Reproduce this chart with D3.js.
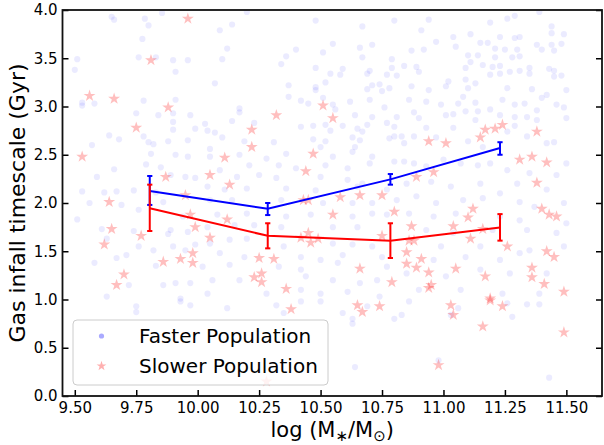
<!DOCTYPE html>
<html>
<head>
<meta charset="utf-8">
<script src="https://cdn.jsdelivr.net/npm/d3@7"></script>
<style>
  body { margin: 0; background: #fff; }
  svg { font-family: "DejaVu Sans", sans-serif; }
</style>
</head>
<body>
<svg id="chart" width="604" height="445"></svg>
<script>
// binned medians with error bars
const binMass = [9.805, 10.285, 10.784, 11.23];
const fasterMedian = [2.125, 1.94, 2.245, 2.57];
const fasterLo = [1.98, 1.875, 2.19, 2.50];
const fasterHi = [2.28, 2.00, 2.30, 2.63];
const slowerMedian = [1.945, 1.66, 1.61, 1.745];
const slowerLo = [1.71, 1.53, 1.43, 1.61];
const slowerHi = [2.19, 1.79, 1.79, 1.885];

const xTicks = [9.5, 9.75, 10.0, 10.25, 10.5, 10.75, 11.0, 11.25, 11.5];
const yTicks = [0, 0.5, 1.0, 1.5, 2.0, 2.5, 3.0, 3.5, 4.0];
const legendLabels = ["Faster Population", "Slower Population"];

// faint background samples [log mass, timescale]
const fasterPop = [
  [9.65,3.93],[9.66,3.90],[9.785,3.91],[9.80,3.84],[9.855,3.97],[9.775,3.70],[9.51,3.49],[9.50,3.38],
  [9.76,3.51],[9.83,3.51],[9.90,3.48],[9.91,3.36],[9.96,3.48],[9.53,3.04],[9.53,3.01],[9.58,3.03],
  [9.78,3.06],[9.91,3.07],[9.75,2.93],[9.84,2.91],[9.90,2.93],[9.90,2.84],[9.97,2.91],[9.64,2.70],
  [9.68,2.66],[9.78,2.69],[9.80,2.63],[9.82,2.61],[9.88,2.64],[9.90,2.76],[9.96,2.65],[9.99,2.77],
  [9.57,2.60],
  [10.20,3.98],[10.14,3.85],[10.09,3.79],[10.12,3.60],[10.10,3.49],[10.34,3.44],[10.36,3.52],[10.40,3.59],
  [10.48,3.89],[10.67,3.83],[10.80,3.89],[10.55,3.65],[10.51,3.56],[10.66,3.61],[10.71,3.64],[10.67,3.51],
  [10.79,3.49],[10.79,3.40],[10.48,3.40],[10.59,3.39],[10.58,3.33],[10.54,3.34],[10.52,3.25],[10.48,3.20],
  [10.48,3.17],[10.37,3.22],[10.37,3.10],[10.42,3.06],[10.45,3.03],[10.51,3.09],[10.55,3.02],[10.56,2.97],
  [10.07,3.24],[10.17,2.98],[10.17,2.94],[10.14,2.85],[10.23,2.83],[10.03,2.82],[10.04,2.75],[10.07,2.73],
  [10.10,2.68],[10.19,2.64],[10.05,2.56],[10.31,2.63],[10.42,2.79],[10.47,2.80],[10.52,2.81],[10.59,2.80],
  [10.62,3.05],[10.64,2.91],[10.65,2.77],[10.67,2.74],[10.69,2.81],[10.71,2.89],[10.76,2.99],[10.77,2.83],
  [10.81,2.89],[10.70,3.07],[10.69,3.18],[10.75,3.16],[10.78,3.19],[10.71,3.22],[10.74,3.23],[10.77,3.33],
  [10.81,3.32],[10.70,3.37],[10.69,3.34],[10.80,2.79],[10.78,2.67],[10.80,2.69],[10.63,2.68],[10.66,2.65],
  [10.47,2.66],[10.50,2.58],[10.52,2.64],[10.54,2.75],[10.64,2.58],
  [11.39,3.98],[11.29,3.94],[11.26,3.91],[11.19,3.87],[10.94,3.90],[10.91,3.79],[11.11,3.75],[11.04,3.72],
  [10.97,3.67],[10.87,3.58],[10.92,3.59],[11.05,3.62],[11.15,3.66],[11.18,3.66],[11.23,3.72],[11.29,3.71],
  [11.31,3.72],[11.44,3.83],[11.44,3.76],[11.49,3.75],[11.38,3.64],[11.44,3.64],[11.48,3.65],[11.40,3.59],
  [11.45,3.58],[11.21,3.60],[11.25,3.59],[11.30,3.59],[11.10,3.53],[11.14,3.53],[11.21,3.51],[11.28,3.51],
  [11.31,3.52],[11.11,3.46],[11.16,3.43],[11.20,3.41],[11.23,3.42],[10.84,3.42],[10.89,3.41],[11.09,3.40],
  [11.27,3.36],[11.31,3.37],[11.35,3.40],[11.35,3.34],[11.43,3.39],[11.45,3.37],[11.45,3.31],[11.48,3.32],
  [10.90,3.36],[11.02,3.26],[11.09,3.28],[11.13,3.24],[11.19,3.33],[11.23,3.34],[10.87,3.21],[10.94,3.17],
  [11.01,3.21],[11.10,3.19],[11.26,3.19],[11.36,3.18],[11.50,3.17],[10.86,3.07],[10.93,3.05],[10.99,3.02],
  [11.06,3.03],[11.08,3.10],[11.13,3.04],[11.24,3.07],[11.29,3.02],[11.33,3.03],[11.40,3.09],[11.42,3.12],
  [11.46,3.02],[11.49,2.99],[10.88,2.94],[10.90,2.88],[11.01,2.91],[11.04,2.92],[11.09,2.95],[11.14,2.95],
  [11.19,2.97],[11.23,2.91],[11.29,2.89],[11.34,2.89],[11.38,2.96],[11.38,2.86],[11.50,2.88],[10.93,2.78],
  [11.04,2.78],[11.13,2.86],[11.26,2.74],[11.29,2.80],[11.34,2.69],[11.42,2.62],[11.45,2.63],[10.83,2.69],
  [10.88,2.69],[10.97,2.68],[11.10,2.64],[10.84,2.62],[11.16,2.58],
  [9.53,2.12],[9.56,2.00],[9.51,1.83],[9.62,2.11],[9.67,2.12],[9.59,2.27],[9.66,2.35],[9.79,2.40],
  [9.85,2.37],[9.91,2.50],[9.96,2.48],[9.74,2.13],[9.69,1.98],[9.76,1.93],[9.86,2.01],[9.89,1.72],
  [9.88,1.68],[9.74,1.71],[9.61,1.73],[9.63,1.63],[9.67,1.43],[9.71,1.46],[9.58,1.38],[9.82,1.51],
  [9.76,1.55],[9.83,1.35],[9.90,1.55],[9.95,1.51],[9.99,1.57],[9.99,2.26],[9.95,2.27],[9.89,2.29],
  [9.83,2.11],[9.94,1.86],[9.96,1.70],[9.86,1.15],[9.91,1.17],[9.97,1.17],[9.93,1.01],[9.72,1.15],
  [9.63,1.03],[9.81,2.51],
  [10.05,2.48],[10.17,2.50],[10.28,2.46],[10.36,2.51],[10.55,2.48],[10.63,2.53],[10.71,2.48],[10.80,2.43],
  [10.21,2.39],[10.33,2.39],[10.40,2.36],[10.52,2.39],[10.61,2.36],[10.70,2.41],[10.09,2.34],[10.16,2.27],
  [10.25,2.29],[10.32,2.26],[10.50,2.27],[10.61,2.24],[10.67,2.20],[10.04,2.17],[10.11,2.14],[10.20,2.15],
  [10.36,2.15],[10.48,2.13],[10.65,2.17],[10.77,2.14],[10.05,2.03],[10.14,2.03],[10.34,2.03],[10.51,2.00],
  [10.63,2.00],[10.71,2.00],[10.81,2.03],[10.08,1.88],[10.20,1.89],[10.36,1.86],[10.46,1.88],[10.63,1.86],
  [10.71,1.89],[10.77,1.88],[10.04,1.75],[10.15,1.77],[10.23,1.77],[10.34,1.75],[10.55,1.75],[10.65,1.75],
  [10.05,1.58],[10.13,1.62],[10.20,1.63],[10.35,1.55],[10.55,1.58],[10.63,1.57],[10.71,1.55],[10.09,1.48],
  [10.19,1.44],[10.42,1.44],[10.50,1.41],[10.59,1.46],[10.75,1.44],[10.02,1.34],[10.13,1.36],[10.33,1.34],
  [10.42,1.31],[10.57,1.38],[10.77,1.34],[10.06,1.20],[10.17,1.20],[10.44,1.24],[10.55,1.20],[10.66,1.17],
  [10.73,1.20],[10.04,1.06],[10.28,1.06],[10.42,1.10],[10.50,1.06],[10.61,1.08],[10.74,1.03],
  [10.84,2.43],[10.88,2.41],[10.93,2.38],[11.00,2.45],[11.07,2.41],[11.14,2.39],[11.19,2.41],[11.26,2.34],
  [11.35,2.31],[11.46,2.29],[11.50,2.41],[10.85,2.20],[10.95,2.22],[11.03,2.17],[11.15,2.20],[11.23,2.10],
  [11.30,2.20],[11.42,2.14],[11.49,2.00],[10.89,2.07],[10.97,2.00],[11.08,2.03],[11.16,2.05],[11.31,2.01],
  [11.37,1.96],[10.86,1.89],[10.96,1.86],[11.05,1.89],[11.23,1.86],[11.31,1.82],[11.50,1.79],[10.93,1.72],
  [11.04,1.69],[11.20,1.72],[11.34,1.72],[11.46,1.69],[10.99,1.55],[11.15,1.55],[11.35,1.51],[11.49,1.55],
  [10.96,1.41],[11.09,1.44],[11.23,1.41],[11.31,1.48],[10.85,1.27],[11.01,1.24],[11.15,1.31],[11.27,1.27],
  [11.42,1.27],[10.90,1.10],[11.07,1.10],[11.24,1.06],[11.39,1.06],
  [9.75,0.93],[9.75,0.87],[9.93,0.98],[9.97,0.94],[10.12,0.91],[10.32,0.94],[10.35,0.86],[10.42,0.98],
  [10.50,0.98],[10.59,0.86],[10.63,0.75],[10.63,0.80],[10.69,0.93],[10.80,0.80],[10.64,0.30],[10.86,0.98],
  [10.83,0.84],[11.06,0.91],[11.03,0.84],[11.26,0.96],[11.28,0.82],[11.34,0.95],[11.39,0.95],[10.98,0.37],
  [11.43,0.19]
];

const slowerPop = [
  [9.96,3.91],[9.81,3.48],[9.56,3.11],[9.66,3.08],[9.88,2.99],[9.75,2.78],
  [10.51,3.01],[10.55,2.88],[10.32,2.91],[10.22,2.76],[10.22,2.58],
  [10.94,2.64],[11.01,2.62],[11.15,2.68],[11.17,2.76],[11.21,2.77],[11.24,2.81],[11.38,2.74],
  [9.53,2.48],[9.87,2.27],[9.64,2.01],[9.95,2.08],[9.97,1.88],[9.99,1.75],[9.65,1.73],[9.77,1.66],
  [9.62,1.57],[9.86,1.39],[9.93,1.42],[9.98,1.48],[9.98,1.38],[9.70,1.26],[9.67,1.15],
  [10.11,2.47],[10.47,2.51],[10.05,2.29],[10.13,2.19],[10.44,2.33],[10.43,2.03],[10.45,2.03],[10.58,2.06],
  [10.66,2.08],[10.75,2.08],[10.80,1.91],[10.55,1.88],[10.12,1.83],[10.05,1.64],[10.42,1.64],[10.45,1.69],
  [10.46,1.59],[10.49,1.63],[10.75,1.66],[10.25,1.43],[10.31,1.42],[10.23,1.23],[10.26,1.27],[10.26,1.18],
  [10.66,1.32],[10.36,1.11],[10.79,1.18],
  [10.89,2.27],[10.96,2.32],[11.31,2.45],[11.36,2.48],[11.42,2.42],[11.38,2.21],[11.12,1.94],[11.10,1.85],
  [11.40,1.94],[11.43,1.88],[11.46,1.86],[10.87,1.76],[11.04,1.76],[11.16,1.73],[11.11,1.63],[10.86,1.61],
  [10.88,1.61],[11.26,1.55],[10.85,1.49],[10.91,1.42],[11.42,1.50],[11.45,1.44],[10.85,1.37],[10.89,1.33],
  [11.05,1.32],[10.94,1.28],[11.36,1.33],[11.36,1.23],[11.17,1.24],[10.95,1.15],[10.94,1.12],[11.41,1.16],
  [11.49,1.08],[11.19,1.01],
  [10.38,0.90],[10.65,0.94],[10.67,0.87],[10.74,0.93],[10.28,0.15],
  [11.03,0.94],[11.04,0.84],[11.19,0.99],[11.24,0.93],[11.16,0.72],[11.49,0.66],[10.98,0.32]
];

const W = 604, H = 445;
const margin = { top: 10, right: 2, bottom: 49, left: 62.5 };
const svg = d3.select("#chart");

const x = d3.scaleLinear().domain([9.45, 11.645]).range([margin.left, W - margin.right]);
const y = d3.scaleLinear().domain([0, 4]).range([H - margin.bottom, margin.top]);

svg.append("defs").append("clipPath").attr("id", "plotclip")
  .append("rect")
  .attr("x", margin.left).attr("y", margin.top)
  .attr("width", W - margin.right - margin.left)
  .attr("height", H - margin.bottom - margin.top);

const plot = svg.append("g").attr("clip-path", "url(#plotclip)");

// blue background points
plot.append("g").selectAll("circle")
  .data(fasterPop)
  .join("circle")
  .attr("cx", d => x(d[0]))
  .attr("cy", d => y(d[1]))
  .attr("r", 3.1)
  .attr("fill", "blue")
  .attr("fill-opacity", 0.08);

// red stars
const star = d3.symbol().type(d3.symbolStar).size(44);
plot.append("g").selectAll("path")
  .data(slowerPop)
  .join("path")
  .attr("d", star)
  .attr("transform", d => `translate(${x(d[0])},${y(d[1])})`)
  .attr("fill", "red")
  .attr("fill-opacity", 0.25);

// median lines with error bars
function drawSeries(med, lo, hi, color) {
  const pts = binMass.map((m, i) => ({ m, v: med[i], lo: lo[i], hi: hi[i] }));
  const line = d3.line().x(d => x(d.m)).y(d => y(d.v));
  const g = svg.append("g");
  g.append("path")
    .datum(pts)
    .attr("d", line)
    .attr("fill", "none")
    .attr("stroke", color)
    .attr("stroke-width", 2);
  const cap = 2.6;
  const eb = g.selectAll("g.err").data(pts).join("g").attr("class", "err");
  eb.append("line")
    .attr("x1", d => x(d.m)).attr("x2", d => x(d.m))
    .attr("y1", d => y(d.lo)).attr("y2", d => y(d.hi))
    .attr("stroke", color).attr("stroke-width", 2);
  eb.append("line")
    .attr("x1", d => x(d.m) - cap).attr("x2", d => x(d.m) + cap)
    .attr("y1", d => y(d.lo)).attr("y2", d => y(d.lo))
    .attr("stroke", color).attr("stroke-width", 2);
  eb.append("line")
    .attr("x1", d => x(d.m) - cap).attr("x2", d => x(d.m) + cap)
    .attr("y1", d => y(d.hi)).attr("y2", d => y(d.hi))
    .attr("stroke", color).attr("stroke-width", 2);
}
drawSeries(fasterMedian, fasterLo, fasterHi, "blue");
drawSeries(slowerMedian, slowerLo, slowerHi, "red");

// axes, ticks pointing inward
const xAxis = svg.append("g")
  .attr("transform", `translate(0,${H - margin.bottom})`)
  .call(d3.axisBottom(x).tickValues(xTicks).tickFormat(d3.format(".2f")).tickSizeInner(-6).tickSizeOuter(0).tickPadding(6));
const yAxis = svg.append("g")
  .attr("transform", `translate(${margin.left},0)`)
  .call(d3.axisLeft(y).tickValues(yTicks).tickFormat(d3.format(".1f")).tickSizeInner(-6).tickSizeOuter(0).tickPadding(5));
const yRight = svg.append("g")
  .attr("transform", `translate(${W - margin.right},0)`)
  .call(d3.axisRight(y).tickValues(yTicks).tickFormat("").tickSizeInner(-6).tickSizeOuter(0));

[xAxis, yAxis, yRight].forEach(a => {
  a.select(".domain").remove();
  a.selectAll(".tick line").attr("stroke", "#000").attr("stroke-width", 1.5);
  a.selectAll(".tick text").attr("font-size", 15).attr("fill", "#000")
    .attr("font-family", "DejaVu Sans");
});

// frame
svg.append("rect")
  .attr("x", margin.left).attr("y", margin.top)
  .attr("width", W - margin.right - margin.left)
  .attr("height", H - margin.bottom - margin.top)
  .attr("fill", "none")
  .attr("stroke", "#111")
  .attr("stroke-width", 1.8);

// axis labels
const xl = svg.append("text")
  .attr("x", (margin.left + W - margin.right) / 2)
  .attr("y", 437)
  .attr("text-anchor", "middle")
  .attr("font-size", 21);
xl.append("tspan").text("log (M");
xl.append("tspan").attr("font-size", 15).attr("dy", 4).text("\u2217");
xl.append("tspan").attr("dy", -4).text("/M");
xl.append("tspan").attr("font-size", 15).attr("dy", 4).text("\u2299");
xl.append("tspan").attr("dy", -4).text(")");

svg.append("text")
  .attr("transform", `translate(25,${(margin.top + H - margin.bottom) / 2}) rotate(-90)`)
  .attr("text-anchor", "middle")
  .attr("font-size", 22)
  .text("Gas infall timescale (Gyr)");

// legend
const lg = svg.append("g");
lg.append("rect")
  .attr("x", 73).attr("y", 320).attr("width", 255).attr("height", 65)
  .attr("rx", 4)
  .attr("fill", "#fff").attr("fill-opacity", 0.8)
  .attr("stroke", "#cccccc").attr("stroke-width", 1);
lg.append("circle").attr("cx", 101.5).attr("cy", 336).attr("r", 2.6).attr("fill", "#aaaaff");
lg.append("path")
  .attr("d", d3.symbol().type(d3.symbolStar).size(30)())
  .attr("transform", "translate(101.5,366)")
  .attr("fill", "#ffb0b0");
lg.selectAll("text.lab").data(legendLabels).join("text")
  .attr("class", "lab")
  .attr("x", 139)
  .attr("y", (d, i) => 343 + i * 30)
  .attr("font-size", 20)
  .text(d => d);
</script>
</body>
</html>
